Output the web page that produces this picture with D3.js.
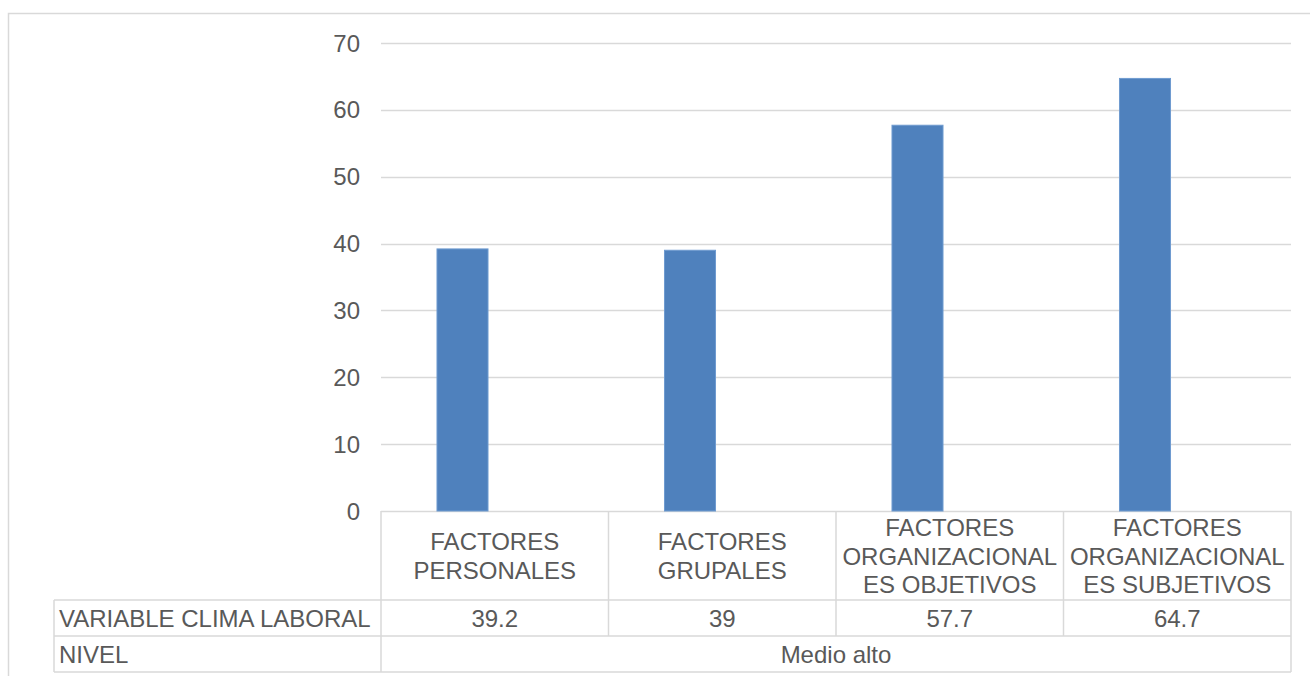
<!DOCTYPE html>
<html>
<head>
<meta charset="utf-8">
<script src="https://cdn.jsdelivr.net/npm/d3@7"></script>
<style>
  html, body { margin: 0; padding: 0; background: #fff; }
  svg { display: block; }
  text { font-family: "Liberation Sans", Arial, sans-serif; fill: #595959; }
</style>
</head>
<body>
<svg id="chart" width="1310" height="676"></svg>
<script>
// ---- data ----
const categories = [
  "FACTORES PERSONALES",
  "FACTORES GRUPALES",
  "FACTORES ORGANIZACIONALES OBJETIVOS",
  "FACTORES ORGANIZACIONALES SUBJETIVOS"
];
const categoryLabelLines = [
  ["FACTORES", "PERSONALES"],
  ["FACTORES", "GRUPALES"],
  ["FACTORES", "ORGANIZACIONAL", "ES OBJETIVOS"],
  ["FACTORES", "ORGANIZACIONAL", "ES SUBJETIVOS"]
];
const seriesNames = ["VARIABLE CLIMA LABORAL", "NIVEL"];
const climaValues = [39.2, 39, 57.7, 64.7];
const nivelText = "Medio alto";
const yTicks = [0, 10, 20, 30, 40, 50, 60, 70];

// ---- layout ----
const svg = d3.select("#chart");
const plotLeft = 381, plotRight = 1291, plotTop = 43, plotBottom = 511;
const tableLeft = 54;
const row1Bottom = 600, row2Bottom = 636, row3Bottom = 672;
const fontSize = 24;
const grid = "#d9d9d9";

// outer chart border
svg.append("rect")
  .attr("x", 8.5).attr("y", 13.5)
  .attr("width", 1400).attr("height", 800)
  .attr("fill", "none").attr("stroke", grid).attr("stroke-width", 1.5);

const y = d3.scaleLinear().domain([0, 70]).range([plotBottom, plotTop]);
const x = d3.scaleBand().domain(categories).range([plotLeft, plotRight]).padding(0);
const xSub = d3.scaleBand().domain(seriesNames).range([0, x.bandwidth()])
  .paddingInner(0.209).paddingOuter(0.868);

// gridlines
svg.append("g").selectAll("line").data(yTicks).join("line")
  .attr("x1", plotLeft).attr("x2", plotRight)
  .attr("y1", d => Math.round(y(d)) + 0.5).attr("y2", d => Math.round(y(d)) + 0.5)
  .attr("stroke", grid).attr("stroke-width", 1.5);

// y tick labels
svg.append("g").selectAll("text").data(yTicks).join("text")
  .attr("x", 360).attr("y", d => y(d))
  .attr("text-anchor", "end").attr("dominant-baseline", "central")
  .attr("font-size", fontSize)
  .text(d => d);

// bars
svg.append("g").selectAll("rect").data(climaValues).join("rect")
  .attr("x", (d, i) => x(categories[i]) + xSub(seriesNames[0]))
  .attr("width", xSub.bandwidth())
  .attr("y", d => y(d))
  .attr("height", d => y(0) - y(d))
  .attr("fill", "#4f81bd")
  .attr("stroke", "#6f9bd0").attr("stroke-width", 1);

// table lines
const tg = svg.append("g").attr("stroke", grid).attr("stroke-width", 1.5);
[row1Bottom, row2Bottom, row3Bottom].forEach(yy => {
  tg.append("line").attr("x1", tableLeft).attr("x2", plotRight)
    .attr("y1", yy).attr("y2", yy);
});
tg.append("line").attr("x1", tableLeft).attr("x2", tableLeft)
  .attr("y1", row1Bottom).attr("y2", row3Bottom);
tg.append("line").attr("x1", plotLeft).attr("x2", plotLeft)
  .attr("y1", plotBottom).attr("y2", row3Bottom);
tg.append("line").attr("x1", plotRight).attr("x2", plotRight)
  .attr("y1", plotBottom).attr("y2", row3Bottom);
categories.slice(1).forEach(c => {
  tg.append("line").attr("x1", x(c)).attr("x2", x(c))
    .attr("y1", plotBottom).attr("y2", row2Bottom);
});

// category labels
const lineH = 28.5;
const catMid = (plotBottom + row1Bottom) / 2;
categories.forEach((c, i) => {
  const lines = categoryLabelLines[i];
  const cx = x(c) + x.bandwidth() / 2;
  const startY = catMid - (lines.length - 1) * lineH / 2;
  const t = svg.append("text").attr("text-anchor", "middle")
    .attr("font-size", fontSize).attr("dominant-baseline", "central");
  lines.forEach((ln, j) => {
    t.append("tspan").attr("x", cx).attr("y", startY + j * lineH).text(ln);
  });
});

// value row
const row2Mid = (row1Bottom + row2Bottom) / 2;
svg.append("text").attr("x", 59).attr("y", row2Mid)
  .attr("dominant-baseline", "central").attr("font-size", fontSize)
  .text(seriesNames[0]);
svg.append("g").selectAll("text").data(climaValues).join("text")
  .attr("x", (d, i) => x(categories[i]) + x.bandwidth() / 2)
  .attr("y", row2Mid)
  .attr("text-anchor", "middle").attr("dominant-baseline", "central")
  .attr("font-size", fontSize)
  .text(d => d);

// nivel row
const row3Mid = (row2Bottom + row3Bottom) / 2;
svg.append("text").attr("x", 59).attr("y", row3Mid)
  .attr("dominant-baseline", "central").attr("font-size", fontSize)
  .text(seriesNames[1]);
svg.append("text").attr("x", (plotLeft + plotRight) / 2).attr("y", row3Mid)
  .attr("text-anchor", "middle").attr("dominant-baseline", "central")
  .attr("font-size", fontSize)
  .text(nivelText);
</script>
</body>
</html>
